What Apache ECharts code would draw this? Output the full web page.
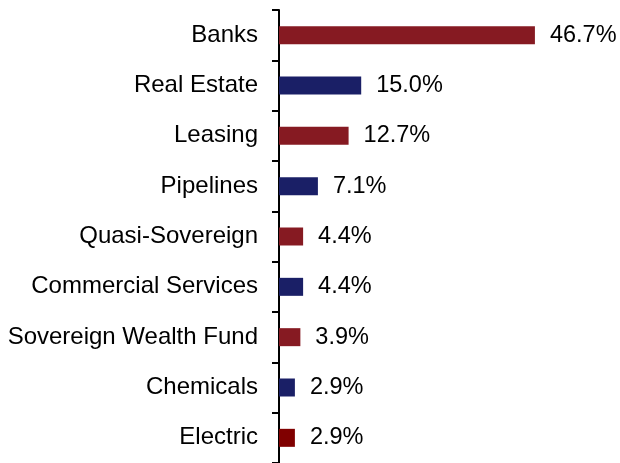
<!DOCTYPE html>
<html><head><meta charset="utf-8">
<script src="https://cdn.jsdelivr.net/npm/echarts@6/dist/echarts.min.js"></script>
<style>html,body{margin:0;padding:0;background:#fff}#c{width:620px;height:463px}</style>
</head><body><div id="c"></div>
<script>
const categories = ["Banks","Real Estate","Leasing","Pipelines","Quasi-Sovereign","Commercial Services","Sovereign Wealth Fund","Chemicals","Electric"];
const values = [46.7, 15.0, 12.7, 7.1, 4.4, 4.4, 3.9, 2.9, 2.9];
const barColors = ["#861A22","#1A1F66","#861A22","#1A1F66","#861A22","#1A1F66","#861A22","#1A1F66","#800000"];

const chart = echarts.init(document.getElementById('c'));
const font = '"Liberation Sans", Arial, sans-serif';
chart.setOption({
  animation: false,
  grid: { left: 279, top: 10, bottom: -2, width: 328.8 },
  xAxis: { type: 'value', min: 0, max: 60, show: false },
  yAxis: {
    type: 'category', data: categories, inverse: true,
    axisLine: { show: true, lineStyle: { color: '#000', width: 2 } },
    axisTick: { show: true, length: 7, lineStyle: { color: '#000', width: 2 } },
    axisLabel: { color: '#000', fontSize: 24, fontFamily: font, margin: 21, padding: [4, 0, 0, 0] },
    splitLine: { show: false }
  },
  series: [{
    type: 'bar', barWidth: 18,
    data: values.map((v, i) => ({ value: v, itemStyle: { color: barColors[i] } })),
    label: {
      show: true, position: 'right', distance: 15,
      color: '#000', fontSize: 23.5, fontFamily: font, padding: [4, 0, 0, 0],
      formatter: p => p.value.toFixed(1) + '%'
    }
  }]
});
</script></body></html>
